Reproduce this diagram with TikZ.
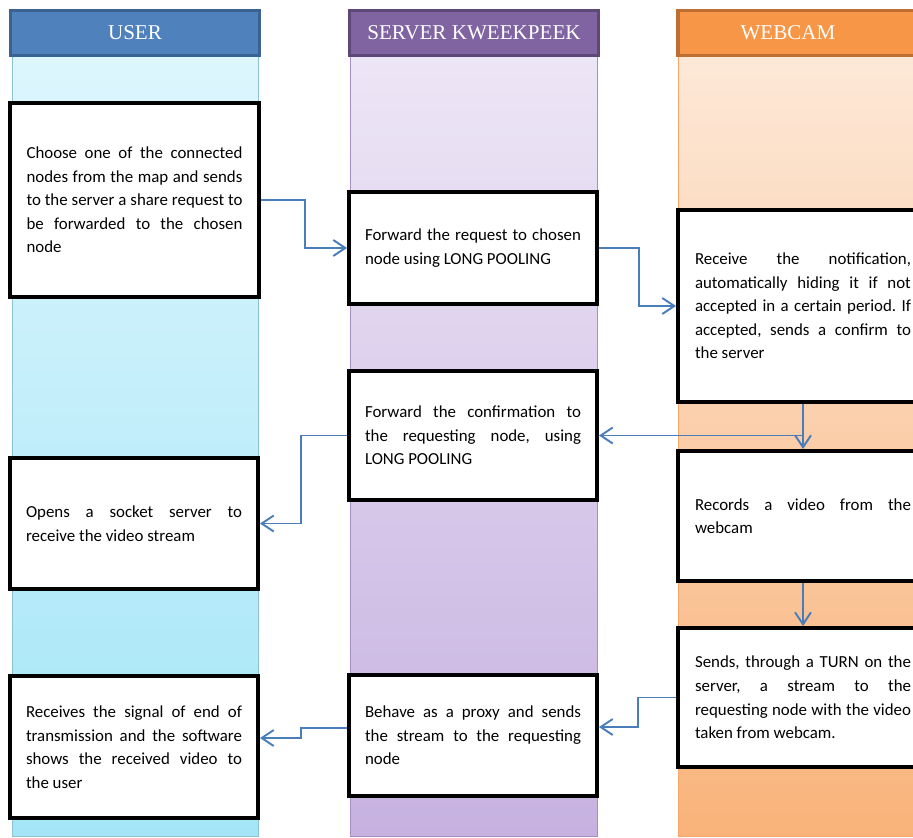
\documentclass[tikz,border=0pt]{standalone}
\usepackage{fontspec}
\setmainfont{Carlito}
\newfontfamily\headfont{Liberation Serif}
\frenchspacing
\usetikzlibrary{positioning,arrows.meta}
\definecolor{userhead}{HTML}{4F81BD}
\definecolor{userrim}{HTML}{3A6391}
\definecolor{usertop}{HTML}{DDF6FD}
\definecolor{userbot}{HTML}{A3E5F7}
\definecolor{userline}{HTML}{8CC3D3}
\definecolor{servhead}{HTML}{8064A2}
\definecolor{servrim}{HTML}{5E4878}
\definecolor{servtop}{HTML}{EDE6F6}
\definecolor{servbot}{HTML}{C6B1E0}
\definecolor{servline}{HTML}{A58FC4}
\definecolor{camhead}{HTML}{F79646}
\definecolor{camrim}{HTML}{BD6F33}
\definecolor{camtop}{HTML}{FDE8D7}
\definecolor{cambot}{HTML}{F9B37A}
\definecolor{camline}{HTML}{F4A66A}
\definecolor{arrowblue}{HTML}{4A7EBB}
\tikzset{
  flowarrow/.style={-{Straight Barb[length=2.4mm,width=3.2mm]}, draw=arrowblue, line width=1.1pt},
  lanehead/.style={draw, line width=2pt, minimum width=4.98cm, minimum height=0.9cm, text=white,
    font=\headfont\fontsize{12}{14}\selectfont},
  stepbox/.style={draw=black, line width=2.3pt, fill=white, text width=4.32cm, align=justify,
    font=\fontsize{9.6}{13.4}\selectfont}
}

\begin{document}
\begin{tikzpicture}[x=0.02cm, y=-0.02cm]
  \useasboundingbox (0,0) rectangle (913,838);
  \clip (0,0) rectangle (913,838);
  % swim lanes
  \shade[top color=usertop, bottom color=userbot, draw=userline] (12,56) rectangle (258,836);
  \shade[top color=servtop, bottom color=servbot, draw=servline] (350,56) rectangle (597,836);
  \shade[top color=camtop, bottom color=cambot, draw=camline] (678,56) rectangle (930,836);
  \node[lanehead, fill=userhead, draw=userrim] (huser) at (135,33) {USER};
  \node[lanehead, fill=servhead, draw=servrim] (hserver) at (474,33) {SERVER KWEEKPEEK};
  \node[lanehead, fill=camhead, draw=camrim, minimum width=5.04cm] (hcam) at (804,33)
    {\hspace*{-0.32cm}WEBCAM\hspace*{0.32cm}};

  % steps
  \node[stepbox, minimum width=4.98cm, minimum height=3.88cm] (user1) at (134.5,200)
    {Choose one of the connected\linebreak nodes from the map and sends\linebreak to the server a share request to\linebreak be forwarded to the chosen\linebreak node};
  \node[stepbox, minimum width=4.96cm, minimum height=2.24cm] (serv1) at (473,248)
    {Forward the request to chosen\linebreak node using LONG POOLING};
  \node[stepbox, minimum width=5.0cm, minimum height=3.84cm] (cam1) at (803,306)
    {Receive the notification,\linebreak automatically hiding it if not\linebreak accepted in a certain period. If\linebreak accepted, sends a confirm to\linebreak the server};
  \node[stepbox, minimum width=4.96cm, minimum height=2.58cm] (serv2) at (473,435.5)
    {Forward the confirmation to\linebreak the requesting node, using\linebreak LONG POOLING};
  \node[stepbox, minimum width=5.0cm, minimum height=2.6cm] (cam2) at (803,516)
    {Records a video from the\linebreak webcam};
  \node[stepbox, minimum width=4.96cm, minimum height=2.62cm] (user2) at (134,523.5)
    {Opens a socket server to\linebreak receive the video stream};
  \node[stepbox, minimum width=5.0cm, minimum height=2.78cm] (cam3) at (803,697.5)
    {Sends, through a TURN on the\linebreak server, a stream to the\linebreak requesting node with the video\linebreak taken from webcam.};
  \node[stepbox, minimum width=4.96cm, minimum height=2.42cm] (serv3) at (473,735.5)
    {Behave as a proxy and sends\linebreak the stream to the requesting\linebreak node};
  \node[stepbox, minimum width=4.96cm, minimum height=2.84cm] (user3) at (134,747)
    {Receives the signal of end of\linebreak transmission and the software\linebreak shows the received video to\linebreak the user};

  % messages
  \draw[flowarrow] (user1.east) -- ++(44,0) |- (serv1.west);
  \draw[flowarrow] (serv1.east) -- ++(40,0) |- (cam1.west);
  \draw[flowarrow] (cam1.south) -- (cam2.north);
  \draw[flowarrow] (cam1.south) |- (serv2.east);
  \draw[flowarrow] (serv2.west) -- ++(-46,0) |- (user2.east);
  \draw[flowarrow] (cam2.south) -- (cam3.north);
  \draw[flowarrow] (cam3.west) -- ++(-38,0) |- ([yshift=0.17cm]serv3.east);
  \draw[flowarrow] ([yshift=0.15cm]serv3.west) -- ++(-46,0) |- ([yshift=0.18cm]user3.east);
\end{tikzpicture}
\end{document}
